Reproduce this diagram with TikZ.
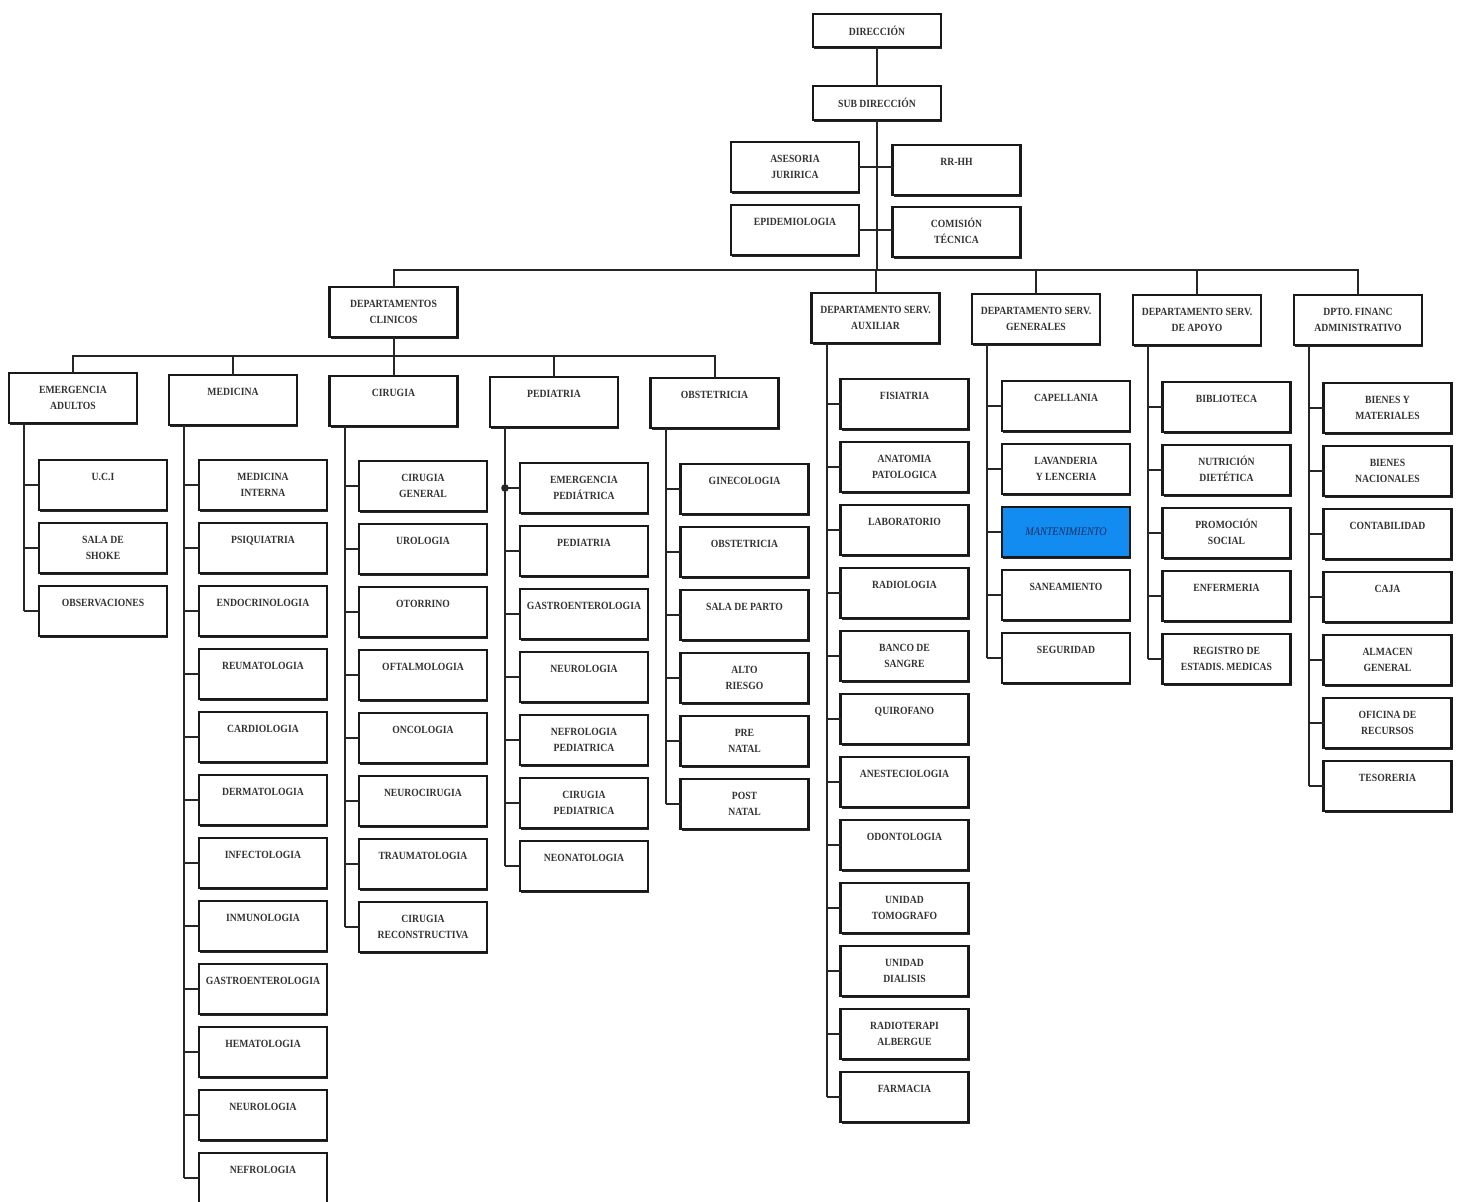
\documentclass[tikz,border=0pt]{standalone}
\usepackage{fontspec}
\setmainfont{Liberation Serif}[FakeStretch=0.88]
\usetikzlibrary{shadows}
\definecolor{mblue}{RGB}{18,140,240}
\definecolor{mtext}{RGB}{20,45,100}
\newcommand\bxfont{\fontsize{5.5}{8}\selectfont\bfseries}
\newcommand\obox[5][]{\node[bx,#1] (#2) at (#3,#4+25) {\parbox[c][25pt][t]{64pt}{\centering\vspace*{5.2pt}\rule{0pt}{5pt}#5\par}};}
\newcommand\cbox[5][]{\node[bx,#1] (#2) at (#3,#4+25) {\parbox[c][25pt][c]{64pt}{\centering #5\par}};}
\newcommand\kidcol[5]{%
 \coordinate (#2T) at ([xshift=7.5pt]#1.south west);
 \foreach \t [count=\k from 0] in {#5} {%
   \obox{#2\k}{#3}{#4+63*\k}{\t}
   \draw[ln] (#2\k.west) -- (#2\k.west -| #2T);
   \xdef\lastk{\k}%
 }
 \draw[ln] (#2T) -- (#2T |- #2\lastk.west);
}
\tikzset{
 bx/.style={draw=black!90, line width=1.15pt, fill=white, inner sep=0pt, outer sep=0pt,
   font=\bxfont, text=black!80,
   drop shadow={shadow xshift=0.5pt, shadow yshift=-0.9pt, fill=black!85, opacity=1}},
 ln/.style={line width=1pt, draw=black!85},
 mant/.style={fill=mblue, text=mtext, font=\fontsize{5.8}{8}\selectfont\itshape}
}
\begin{document}
\begin{tikzpicture}[x=0.5pt,y=-0.5pt]
\fill[white] (0,0) rectangle (1458,1201);
\useasboundingbox (0,0) rectangle (1458,1201);

% top
\node[bx] (dir) at (877,30.5) {\parbox[c][16.5pt][c]{64pt}{\centering DIRECCIÓN\par}};
\node[bx] (sub) at (877,103) {\parbox[c][17pt][c]{64pt}{\centering SUB DIRECCIÓN\par}};
\obox{ase}{795}{142}{ASESORIA\\JURIRICA}
\obox{rrhh}{956.5}{145}{RR-HH}
\obox{epi}{795}{205}{EPIDEMIOLOGIA}
\obox{com}{956.5}{207}{COMISIÓN\\TÉCNICA}

% departments
\obox{clin}{393.5}{287}{DEPARTAMENTOS\\CLINICOS}
\obox{aux}{875.5}{293}{DEPARTAMENTO SERV.\\AUXILIAR}
\obox{gen}{1036}{294}{DEPARTAMENTO SERV.\\GENERALES}
\obox{apo}{1197}{295}{DEPARTAMENTO SERV.\\DE APOYO}
\obox{fin}{1358}{295}{DPTO. FINANC\\ADMINISTRATIVO}

% clinical sub-departments
\obox{emer}{73}{373}{EMERGENCIA\\ADULTOS}
\obox{med}{233}{375}{MEDICINA}
\obox{cir}{393.5}{376}{CIRUGIA}
\obox{ped}{554}{377}{PEDIATRIA}
\obox{obst}{714.5}{378}{OBSTETRICIA}

% connectors top
\draw[ln] (dir) -- (sub);
\coordinate (bus) at (0,270);
\coordinate (cbus) at (0,356);
\draw[ln] (sub.south) -- (sub.south |- bus);
\draw[ln] (ase.east) -- (ase.east -| rrhh.west);
\draw[ln] (epi.east) -- (epi.east -| com.west);
\draw[ln] (clin.north) -- (clin.north |- bus) -- (fin.north |- bus) -- (fin.north);
\foreach \n in {aux,gen,apo} \draw[ln] (\n.north) -- (\n.north |- bus);
\draw[ln] (clin.south) -- (clin.south |- cbus);
\draw[ln] (emer.north) -- (emer.north |- cbus) -- (obst.north |- cbus) -- (obst.north);
\foreach \n in {med,cir,ped} \draw[ln] (\n.north) -- (\n.north |- cbus);

% children columns
\kidcol{emer}{em}{103}{460}{U.C.I,SALA DE\\SHOKE,OBSERVACIONES}
\kidcol{med}{me}{263}{460}{MEDICINA\\INTERNA,PSIQUIATRIA,ENDOCRINOLOGIA,REUMATOLOGIA,CARDIOLOGIA,DERMATOLOGIA,INFECTOLOGIA,INMUNOLOGIA,GASTROENTEROLOGIA,HEMATOLOGIA,NEUROLOGIA,NEFROLOGIA}
\kidcol{cir}{ci}{423}{461}{CIRUGIA\\GENERAL,UROLOGIA,OTORRINO,OFTALMOLOGIA,ONCOLOGIA,NEUROCIRUGIA,TRAUMATOLOGIA,CIRUGIA\\RECONSTRUCTIVA}
\kidcol{ped}{pe}{584}{463}{EMERGENCIA\\PEDIÁTRICA,PEDIATRIA,GASTROENTEROLOGIA,NEUROLOGIA,NEFROLOGIA\\PEDIATRICA,CIRUGIA\\PEDIATRICA,NEONATOLOGIA}
\kidcol{obst}{ob}{744.5}{464}{GINECOLOGIA,OBSTETRICIA,SALA DE PARTO,ALTO\\RIESGO,PRE\\NATAL,POST\\NATAL}
\kidcol{aux}{au}{904.5}{379}{FISIATRIA,ANATOMIA\\PATOLOGICA,LABORATORIO,RADIOLOGIA,BANCO DE\\SANGRE,QUIROFANO,ANESTECIOLOGIA,ODONTOLOGIA,UNIDAD\\TOMOGRAFO,UNIDAD\\DIALISIS,RADIOTERAPI\\ALBERGUE,FARMACIA}
\kidcol{apo}{ap}{1226.5}{382}{BIBLIOTECA,NUTRICIÓN\\DIETÉTICA,PROMOCIÓN\\SOCIAL,ENFERMERIA,REGISTRO DE\\ESTADIS. MEDICAS}
\kidcol{fin}{fi}{1387.5}{383}{BIENES Y\\MATERIALES,BIENES\\NACIONALES,CONTABILIDAD,CAJA,ALMACEN\\GENERAL,OFICINA DE\\RECURSOS,TESORERIA}

% servicios generales column (with highlighted box)
\coordinate (geT) at ([xshift=7.5pt]gen.south west);
\obox{ge0}{1066}{381}{CAPELLANIA}
\obox{ge1}{1066}{444}{LAVANDERIA\\Y LENCERIA}
\cbox[mant]{ge2}{1066}{507}{MANTENIMIENTO}
\obox{ge3}{1066}{570}{SANEAMIENTO}
\obox{ge4}{1066}{633}{SEGURIDAD}
\foreach \k in {0,...,4} \draw[ln] (ge\k.west) -- (ge\k.west -| geT);
\draw[ln] (geT) -- (geT |- ge4.west);

% junction dot
\coordinate (pdot) at (pe0.west -| peT);
\fill[black!85] (pdot) circle (1.9pt);
\end{tikzpicture}
\end{document}
